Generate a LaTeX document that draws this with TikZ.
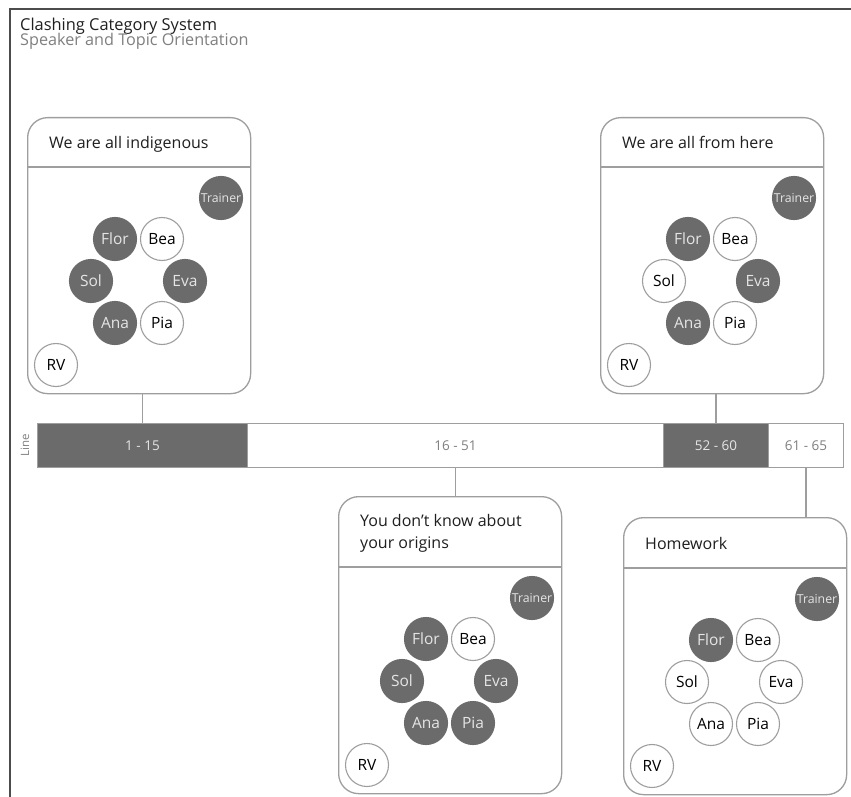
\documentclass[tikz,border=0pt]{standalone}
\usepackage{fontspec}
\setmainfont{Open Sans}
\definecolor{darkfill}{gray}{0.42}
\definecolor{linegray}{gray}{0.62}
\definecolor{framegray}{gray}{0.3}
\definecolor{lighttext}{gray}{0.9}
\definecolor{midtext}{gray}{0.5}
\definecolor{inktext}{gray}{0.12}

% One seating box: #1 name, #2 header height, #3 title,
% #4..#9 style (on/off) for Flor, Bea, Sol, Eva, Ana, Pia
\newcommand\seatbox[9]{%
  \node[gbox,anchor=north west,minimum height={#2+226}] (#1) at (0,0) {};
  \node[gtitle,anchor=base west] (#1-title) at (22,{#2-19}) {#3};
  \draw[gline] (#1.west |- 0,#2) -- (#1.east |- 0,#2);
  \begin{scope}[shift={(0,#2)}]
    \node[trainerdot] (#1-trainer) at (194,31) {Trainer};
    \node[#4] (#1-flor) at (88,72)  {Flor};
    \node[#5] (#1-bea)  at (135,72) {Bea};
    \node[#6] (#1-sol)  at (64,114) {Sol};
    \node[#7] (#1-eva)  at (158,114) {Eva};
    \node[#8] (#1-ana)  at (88,156) {Ana};
    \node[#9] (#1-pia)  at (135,156) {Pia};
    \node[off] (#1-rv)  at (29,198) {RV};
  \end{scope}}

\begin{document}
\begin{tikzpicture}[x=1pt,y=-1pt,
  frameline/.style={draw=framegray,line width=1.6pt},
  gbox/.style={draw=linegray,line width=1.3pt,rounded corners=20pt,
    minimum width=223pt,inner sep=0pt,fill=white},
  gline/.style={draw=linegray,line width=1.1pt},
  gtitle/.style={font=\fontsize{16}{22}\selectfont,text=inktext,
    inner sep=0pt,align=left},
  person/.style={circle,minimum size=43pt,inner sep=0pt,line width=1.1pt,
    font=\fontsize{15.5}{15.5}\selectfont},
  on/.style={person,fill=darkfill,draw=darkfill,text=lighttext},
  off/.style={person,fill=white,draw=linegray,text=black},
  trainerdot/.style={on,font=\fontsize{12.3}{12.3}\selectfont},
  seg/.style={draw=linegray,line width=1pt,anchor=north west,
    minimum height=44pt,inner sep=0pt,font=\fontsize{13.5}{13.5}\selectfont},
  segdark/.style={seg,fill=darkfill,text=lighttext},
  seglight/.style={seg,fill=white,text=midtext},
  conn/.style={draw=linegray,line width=1.2pt}]

\useasboundingbox (0,0) rectangle (851,797);
\fill[white] (0,0) rectangle (851,797);

% open frame: top and left edges
\draw[frameline] (851,9) -- (10,9) -- (10,797);

% heading
\node[anchor=base west,inner sep=0pt,text=inktext,
  font=\fontsize{16.4}{16.4}\selectfont] (head) at (20,31) {Clashing Category System};
\node[anchor=base west,inner sep=0pt,text=midtext,
  font=\fontsize{16.2}{16.2}\selectfont] (subhead) at (20,46) {Speaker and Topic Orientation};

% line ranges
\node[segdark,minimum width=210pt]  (s1) at (37,423)  {1 - 15};
\node[seglight,minimum width=416pt] (s2) at (247,423) {16 - 51};
\node[segdark,minimum width=105pt]  (s3) at (663,423) {52 - 60};
\node[seglight,minimum width=75pt]  (s4) at (768,423) {61 - 65};
\node[rotate=90,text=midtext,inner sep=0pt,
  font=\fontsize{11.5}{11.5}\selectfont] (linelabel) at (25,445) {Line};

% seating boxes
\begin{scope}[shift={(27,117)}]
  \seatbox{b1}{50}{We are all indigenous}{on}{off}{on}{on}{on}{off}
\end{scope}
\begin{scope}[shift={(600,117)}]
  \seatbox{b2}{50}{We are all from here}{on}{off}{off}{on}{on}{off}
\end{scope}
\begin{scope}[shift={(338,496)}]
  \seatbox{b3}{71}{You don’t know about\\your origins}{on}{off}{on}{on}{on}{on}
\end{scope}
\begin{scope}[shift={(623,517)}]
  \seatbox{b4}{51}{Homework}{on}{off}{off}{off}{off}{off}
\end{scope}

% connectors from ranges to boxes
\draw[conn] (s1.north) -- (s1.north |- b1.south);
\draw[conn] (s3.north) -- (s3.north |- b2.south);
\draw[conn] (s2.south) -- (s2.south |- b3.north);
\draw[conn] (s4.south) -- (s4.south |- b4.north);
\end{tikzpicture}
\end{document}
